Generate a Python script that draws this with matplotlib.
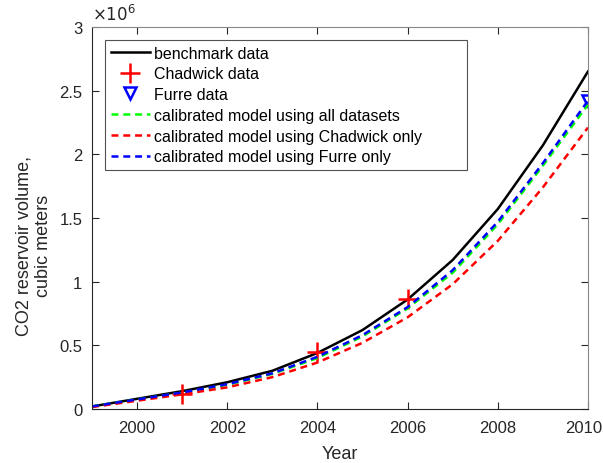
import numpy as np
import matplotlib.pyplot as plt
import matplotlib.transforms as mtransforms
from matplotlib.ticker import FuncFormatter

plt.rcParams['font.family'] = ['Liberation Sans', 'DejaVu Sans']
plt.rcParams['lines.scale_dashes'] = False

# values in cubic meters
years = np.arange(1999, 2011)
benchmark = np.array([0.02, 0.08, 0.14, 0.21, 0.30, 0.44, 0.62, 0.86, 1.17, 1.57, 2.07, 2.65]) * 1e6
fit_all = np.array([0.02, 0.074, 0.128, 0.19, 0.275, 0.40, 0.57, 0.79, 1.07, 1.45, 1.91, 2.39]) * 1e6
fit_chadwick = np.array([0.015, 0.065, 0.115, 0.17, 0.25, 0.365, 0.52, 0.72, 0.98, 1.32, 1.74, 2.21]) * 1e6
fit_furre = np.array([0.02, 0.075, 0.13, 0.195, 0.28, 0.41, 0.58, 0.80, 1.09, 1.47, 1.93, 2.42]) * 1e6

chadwick_years = [2001, 2004, 2006]
chadwick_vals = np.array([0.12, 0.45, 0.86]) * 1e6
furre_years = [2010]
furre_vals = np.array([2.42]) * 1e6

fig = plt.figure(figsize=(6.03, 4.64), dpi=100)
ax = fig.add_axes([0.1526, 0.1164, 0.8224, 0.8233])

ax.plot(years, benchmark, color="black", lw=1.8, label="benchmark data")
ax.plot(chadwick_years, chadwick_vals, linestyle="none", marker="+", markersize=14,
        mew=1.8, color="red", label="Chadwick data")
ax.plot(furre_years, furre_vals, linestyle="none", marker="v", markersize=9,
        mew=1.8, mfc="none", mec="blue", label="Furre data")
ax.plot(years, fit_all, color="#00ff00", lw=1.8, dashes=(5, 3.5),
        label="calibrated model using all datasets")
ax.plot(years, fit_chadwick, color="red", lw=1.8, dashes=(5, 3.5),
        label="calibrated model using Chadwick only")
ax.plot(years, fit_furre, color="blue", lw=1.8, dashes=(5, 3.5),
        label="calibrated model using Furre only")

ax.set_xlim(1999, 2010)
ax.set_ylim(0, 3e6)
ax.set_xticks(range(2000, 2011, 2))
ax.set_yticks(np.arange(0, 3.01e6, 0.5e6))
ax.yaxis.set_major_formatter(FuncFormatter(lambda v, p: "%g" % (v / 1e6)))

gray = "#262626"
for s in ax.spines.values():
    s.set_color(gray)
    s.set_linewidth(0.8)
for s in ["top", "right"]:
    ax.spines[s].set_color("#888888")
ax.tick_params(direction="in", top=True, right=True, labelsize=12,
               colors=gray, length=5, width=0.8)
ax.tick_params(axis="x", pad=8)
ax.tick_params(axis="y", pad=7)

# nudge last x tick label so it stays inside the figure
fig.canvas.draw()
lab = ax.get_xticklabels()[-1]
lab.set_transform(lab.get_transform() + mtransforms.ScaledTranslation(-4/100, 0, fig.dpi_scale_trans))

ax.text(0.0, 1.01, r"$\times10^6$", transform=ax.transAxes, fontsize=12,
        color=gray, ha="left", va="bottom")

ax.set_xlabel("Year", fontsize=13, color=gray, labelpad=7)
ax.set_ylabel("CO2 reservoir volume,\ncubic meters", fontsize=13, color=gray)
ax.yaxis.set_label_coords(-0.08, 0.43)

leg = ax.legend(loc="upper left", bbox_to_anchor=(0.026, 0.0, 0.73, 0.966),
                mode="expand", fontsize=11.5,
                frameon=True, fancybox=False, edgecolor=gray, handlelength=2.45,
                handletextpad=0.25, labelspacing=0.36, borderpad=0.35,
                borderaxespad=0.0)
leg.get_frame().set_linewidth(0.8)

plt.savefig("out.png", dpi=100)
